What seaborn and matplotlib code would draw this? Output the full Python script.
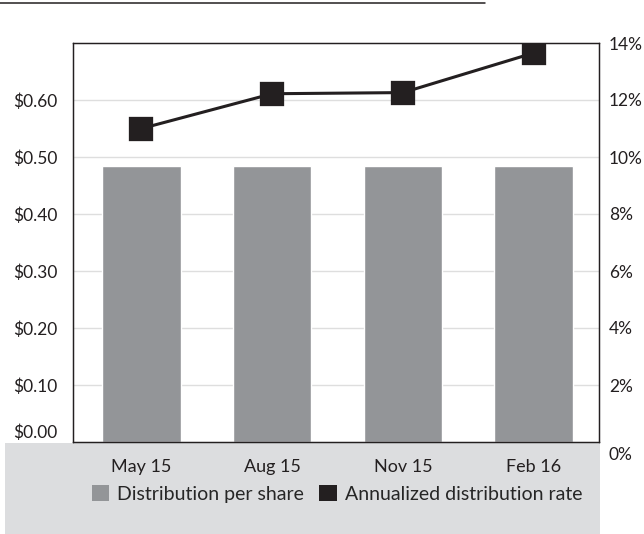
import matplotlib
matplotlib.use("Agg")
import matplotlib.pyplot as plt
import matplotlib.patches as mpatches
import matplotlib.transforms as mtransforms
from matplotlib.lines import Line2D
import seaborn as sns
import pandas as pd

# Quarterly distributions
quarters = ["May 15", "Aug 15", "Nov 15", "Feb 16"]
dist_per_share = [0.484, 0.484, 0.484, 0.484]
annualized_rate = [11.0, 12.22, 12.26, 13.65]

share_ticks = [0.0, 0.1, 0.2, 0.3, 0.4, 0.5, 0.6]
share_labels = ["$0.00", "$0.10", "$0.20", "$0.30", "$0.40", "$0.50", "$0.60"]
rate_ticks = [0, 2, 4, 6, 8, 10, 12, 14]
rate_labels = ["0%", "2%", "4%", "6%", "8%", "10%", "12%", "14%"]

BAR = "#939598"
DARK = "#231f20"
PANEL = "#dcdddf"
GRID = "#dedede"

sns.set_theme(style="white")
plt.rcParams["font.family"] = ["Lato", "DejaVu Sans"]

df = pd.DataFrame({"quarter": quarters, "share": dist_per_share, "rate": annualized_rate})

W, H = 644, 534
fig = plt.figure(figsize=(W / 100, H / 100), dpi=100)

# shaded panel under the plot
fig.patches.append(mpatches.Rectangle((5 / W, 0), 595 / W, (H - 443) / H,
                                      transform=fig.transFigure, facecolor=PANEL,
                                      edgecolor="none", zorder=0))
# rule across the top
fig.add_artist(Line2D([0, 485 / W], [1 - 3 / H, 1 - 3 / H], transform=fig.transFigure,
                      color=DARK, linewidth=1.1))

ax = fig.add_axes([73 / W, (H - 442) / H, 526 / W, 399 / H])
ax.set_zorder(2)

for v in share_ticks[1:]:
    ax.axhline(v, color=GRID, linewidth=1.0, zorder=0)

sns.barplot(data=df, x="quarter", y="share", color=BAR, saturation=1,
            width=0.6, ax=ax, zorder=2)
ax.set_ylim(0, 0.7)
ax.set_yticks(share_ticks)
ax.set_yticklabels(share_labels, fontsize=12.5, color=DARK)
ax.tick_params(axis="y", length=0, pad=11)
ax.tick_params(axis="x", length=0, pad=12, labelsize=13, labelcolor=DARK)
ax.set_xlabel("")
ax.set_ylabel("")

ax2 = ax.twinx()
sns.pointplot(data=df, x="quarter", y="rate", color=DARK, markers="s",
              markersize=15.5, linewidth=2.2, ax=ax2)
ax2.set_ylim(0, 14)
ax2.set_yticks(rate_ticks)
ax2.set_yticklabels(rate_labels, fontsize=12.5, color=DARK)
ax2.tick_params(axis="y", length=0, pad=7)
ax2.set_ylabel("")
ax2.set_xlabel("")

# lift the bottom-left label above the panel, drop the bottom-right one below the frame
fig.canvas.draw()
ax.get_yticklabels()[0].set_transform(
    ax.get_yticklabels()[0].get_transform()
    + mtransforms.ScaledTranslation(0, 8 / 72, fig.dpi_scale_trans))
ax2.get_yticklabels()[0].set_transform(
    ax2.get_yticklabels()[0].get_transform()
    + mtransforms.ScaledTranslation(0, -8 / 72, fig.dpi_scale_trans))

for a in (ax, ax2):
    a.set_xlim(-0.524, 3.5)
    for s in a.spines.values():
        s.set_color(DARK)
        s.set_linewidth(0.9)

handles = [mpatches.Patch(facecolor=BAR, edgecolor="none", label="Distribution per share"),
           mpatches.Patch(facecolor=DARK, edgecolor="none", label="Annualized distribution rate")]
fig.legend(handles=handles, loc="center", bbox_to_anchor=(337 / W, 1 - 494 / H),
           ncol=2, frameon=False, handlelength=0.9, handleheight=0.9,
           handletextpad=0.4, columnspacing=0.8,
           prop={"family": ["Lato", "DejaVu Sans"], "size": 14})

fig.savefig("out.png", dpi=100)
